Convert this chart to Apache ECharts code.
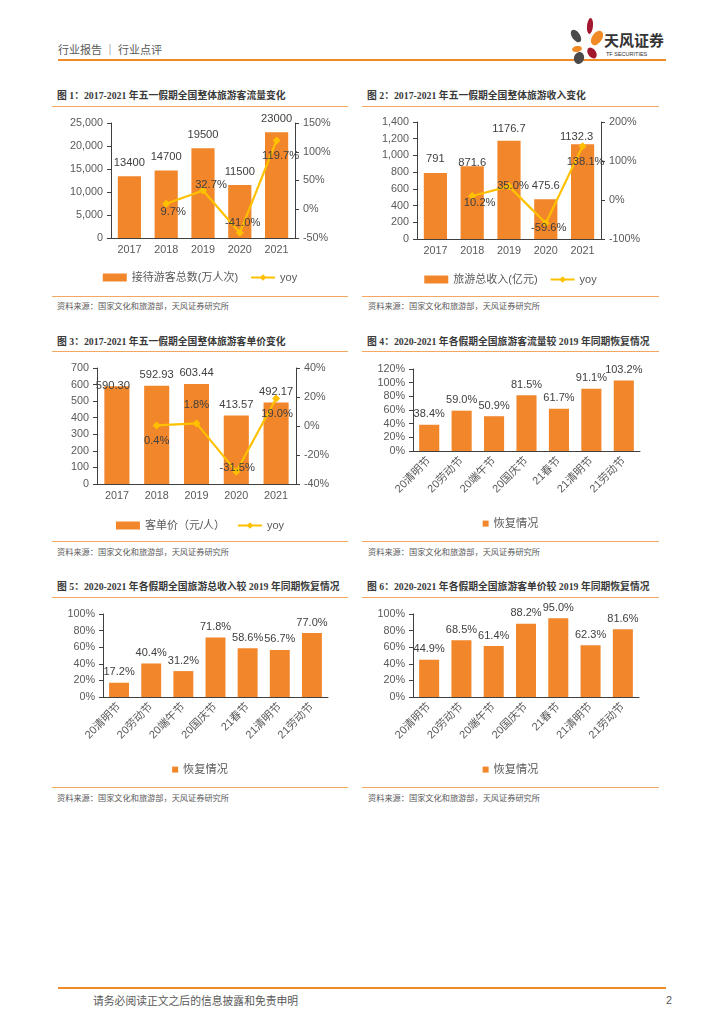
<!DOCTYPE html>
<html><head><meta charset="utf-8">
<script src="https://cdn.jsdelivr.net/npm/echarts@6/dist/echarts.min.js"></script>
<style>
html,body{margin:0;padding:0;background:#fff;}
#page{position:relative;width:724px;height:1024px;overflow:hidden;background:#fff;font-family:"Noto Sans CJK SC",sans-serif;}
.abs{position:absolute;white-space:nowrap;}
.title{font-family:"Liberation Serif","Noto Sans CJK SC",serif;font-weight:bold;font-size:9.8px;line-height:12px;color:#3a3a3a;}
.src{font-size:8.2px;line-height:10px;color:#595959;}
.hl{position:absolute;height:1px;background:#F4A763;}
.chart{position:absolute;}
</style></head>
<body><div id="page">
<div class="abs" style="left:58px;top:42px;font-size:11px;line-height:15px;color:#595959;">行业报告 │ 行业点评</div>
<div style="position:absolute;left:58px;top:59px;width:608px;height:2px;background:#F08A24;"></div>
<svg class="abs" style="left:564px;top:16px;" width="42" height="48" viewBox="0 0 42 48">
  <ellipse cx="26" cy="10" rx="3" ry="8" fill="#A3182F" transform="rotate(5 26 10)"/>
  <ellipse cx="12" cy="20" rx="4" ry="7" fill="#4A4A4A" transform="rotate(-35 12 20)"/>
  <ellipse cx="33" cy="22" rx="5" ry="8" fill="#F08A24" transform="rotate(35 33 22)"/>
  <ellipse cx="13" cy="33" rx="5" ry="3" fill="#F08A24" transform="rotate(-10 13 33)"/>
  <ellipse cx="28" cy="37" rx="4" ry="6" fill="#A3182F" transform="rotate(-35 28 37)"/>
  <ellipse cx="15" cy="42" rx="5" ry="6" fill="#4A4A4A" transform="rotate(20 15 42)"/>
</svg>
<div class="abs" style="left:604px;top:31px;font-size:15px;line-height:18px;font-weight:bold;color:#333;">天风证券</div>
<div class="abs" style="left:606px;top:51px;font-size:5.5px;line-height:7px;color:#333;font-family:'Liberation Sans',sans-serif;">TF SECURITIES</div>

<div class="abs title" style="left:57px;top:90px;">图 1：2017-2021 年五一假期全国整体旅游客流量变化</div>
<div class="abs title" style="left:367px;top:90px;">图 2：2017-2021 年五一假期全国整体旅游收入变化</div>
<div class="hl" style="left:52px;top:106px;width:296px;"></div>
<div class="hl" style="left:362px;top:106px;width:297px;"></div>
<div id="c1" class="chart" style="left:52px;top:107px;width:296px;height:189px;"></div>
<div id="c2" class="chart" style="left:362px;top:107px;width:297px;height:189px;"></div>
<div class="hl" style="left:52px;top:296px;width:296px;"></div>
<div class="hl" style="left:362px;top:296px;width:297px;"></div>
<div class="abs src" style="left:57px;top:300px;">资料来源：国家文化和旅游部，天风证券研究所</div>
<div class="abs src" style="left:368px;top:300px;">资料来源：国家文化和旅游部，天风证券研究所</div>

<div class="abs title" style="left:57px;top:336px;">图 3：2017-2021 年五一假期全国整体旅游客单价变化</div>
<div class="abs title" style="left:367px;top:336px;">图 4：2020-2021 年各假期全国旅游客流量较 2019 年同期恢复情况</div>
<div class="hl" style="left:52px;top:351px;width:296px;"></div>
<div class="hl" style="left:362px;top:351px;width:297px;"></div>
<div id="c3" class="chart" style="left:52px;top:352px;width:296px;height:189px;"></div>
<div id="c4" class="chart" style="left:362px;top:352px;width:297px;height:189px;"></div>
<div class="hl" style="left:52px;top:541px;width:296px;"></div>
<div class="hl" style="left:362px;top:541px;width:297px;"></div>
<div class="abs src" style="left:57px;top:546px;">资料来源：国家文化和旅游部，天风证券研究所</div>
<div class="abs src" style="left:368px;top:546px;">资料来源：国家文化和旅游部，天风证券研究所</div>

<div class="abs title" style="left:57px;top:581px;">图 5：2020-2021 年各假期全国旅游总收入较 2019 年同期恢复情况</div>
<div class="abs title" style="left:367px;top:581px;">图 6：2020-2021 年各假期全国旅游客单价较 2019 年同期恢复情况</div>
<div class="hl" style="left:52px;top:597px;width:296px;"></div>
<div class="hl" style="left:362px;top:597px;width:297px;"></div>
<div id="c5" class="chart" style="left:52px;top:598px;width:296px;height:189px;"></div>
<div id="c6" class="chart" style="left:362px;top:598px;width:297px;height:189px;"></div>
<div class="hl" style="left:52px;top:787px;width:296px;"></div>
<div class="hl" style="left:362px;top:787px;width:297px;"></div>
<div class="abs src" style="left:57px;top:792px;">资料来源：国家文化和旅游部，天风证券研究所</div>
<div class="abs src" style="left:368px;top:792px;">资料来源：国家文化和旅游部，天风证券研究所</div>

<div style="position:absolute;left:58px;top:987px;width:608px;height:2px;background:#F08A24;"></div>
<div class="abs" style="left:93px;top:993px;font-size:10.8px;line-height:14px;color:#595959;">请务必阅读正文之后的信息披露和免责申明</div>
<div class="abs" style="left:666px;top:993px;font-size:10.8px;line-height:14px;color:#595959;font-family:'Liberation Sans',sans-serif;">2</div>
</div>
<script>
// ---------- data ----------
const years = ['2017', '2018', '2019', '2020', '2021'];
const visitors = [13400, 14700, 19500, 11500, 23000];          // 万人次
const visitorsYoy = [null, 9.7, 32.7, -41.0, 119.7];
const revenue = [791, 871.6, 1176.7, 475.6, 1132.3];           // 亿元
const revenueYoy = [null, 10.2, 35.0, -59.6, 138.1];
const spend = [590.30, 592.93, 603.44, 413.57, 492.17];        // 元/人
const spendYoy = [null, 0.4, 1.8, -31.5, 19.0];

const holidays = ['20清明节', '20劳动节', '20端午节', '20国庆节', '21春节', '21清明节', '21劳动节'];
const flowRecovery = [38.4, 59.0, 50.9, 81.5, 61.7, 91.1, 103.2];
const revenueRecovery = [17.2, 40.4, 31.2, 71.8, 58.6, 56.7, 77.0];
const spendRecovery = [44.9, 68.5, 61.4, 88.2, 95.0, 62.3, 81.6];

// axis ranges [min, max, interval]
const visitorsAxis = [0, 25000, 5000];
const visitorsYoyAxis = [-50, 150, 50];
const revenueAxis = [0, 1400, 200];
const revenueYoyAxis = [-100, 200, 100];
const spendAxis = [0, 700, 100];
const spendYoyAxis = [-40, 40, 20];
const flowAxis = [0, 120, 20];
const revenueRecAxis = [0, 100, 20];
const spendRecAxis = [0, 100, 20];

// ---------- style ----------
const FONT = '"Liberation Sans", Arial, "Noto Sans CJK SC", sans-serif';
const ORANGE = '#F2862A';
const GOLD = '#FFC000';
const AXIS = '#404040';
const LBL = '#595959';
const VAL = '#404040';

function thousands(v) { return String(v).replace(/\B(?=(\d{3})+(?!\d))/g, ','); }

function yAxisCfg(range, fmt, pos) {
  return {
    type: 'value', position: pos, min: range[0], max: range[1], interval: range[2],
    splitLine: { show: false },
    axisLine: { show: true, lineStyle: { color: AXIS, width: 1 } },
    axisTick: { show: true, length: 4, lineStyle: { color: AXIS } },
    axisLabel: { color: LBL, fontSize: 10.8, fontFamily: FONT, margin: 8, formatter: fmt }
  };
}

function comboOption(c) {
  return {
    animation: false,
    textStyle: { fontFamily: FONT },
    grid: c.grid,
    legend: {
      left: 'center', top: c.legendTop, itemWidth: 24, itemHeight: 8, itemGap: 12,
      textStyle: { fontSize: 11, color: LBL, fontFamily: FONT },
      data: [{ name: c.barName, icon: 'rect' }, { name: 'yoy' }]
    },
    xAxis: {
      type: 'category', data: years,
      axisLine: { lineStyle: { color: AXIS } },
      axisTick: { length: 4, lineStyle: { color: AXIS } },
      axisLabel: { color: LBL, fontSize: 10.8, fontFamily: FONT, margin: 7 }
    },
    yAxis: [yAxisCfg(c.leftAxis, c.leftFmt, 'left'), yAxisCfg(c.rightAxis, '{value}%', 'right')],
    series: [
      {
        type: 'bar', name: c.barName, barWidth: '63%',
        itemStyle: { color: ORANGE },
        label: { show: true, position: 'top', distance: c.barDist, fontSize: 11.2, color: VAL, fontFamily: FONT, formatter: c.barFmt },
        data: c.bars.map((v, i) => c.barLabelAdj[i] ? { value: v, label: c.barLabelAdj[i] } : v)
      },
      {
        type: 'line', name: 'yoy', yAxisIndex: 1,
        symbol: 'diamond', symbolSize: 8,
        lineStyle: { color: GOLD, width: 2.2 }, itemStyle: { color: GOLD },
        label: { show: true, position: 'inside', fontSize: 11.2, color: VAL, fontFamily: FONT,
          formatter: p => p.value.toFixed(1) + '%' },
        data: c.yoy.map((v, i) => v === null ? null : { value: v, label: { offset: c.yoyOffsets[i] } })
      }
    ]
  };
}

function recoveryOption(values, axis, grid) {
  return {
    animation: false,
    textStyle: { fontFamily: FONT },
    grid: grid,
    legend: {
      left: 'center', top: 161, itemWidth: 6, itemHeight: 6, icon: 'rect',
      textStyle: { fontSize: 11.2, color: LBL, fontFamily: FONT },
      data: ['恢复情况']
    },
    xAxis: {
      type: 'category', data: holidays,
      axisLine: { lineStyle: { color: AXIS } },
      axisTick: { length: 4, lineStyle: { color: AXIS } },
      axisLabel: { color: LBL, fontSize: 11, fontFamily: FONT, rotate: 45, margin: 8, interval: 0 }
    },
    yAxis: yAxisCfg(axis, '{value}%', 'left'),
    series: [{
      type: 'bar', name: '恢复情况', barWidth: '62%',
      itemStyle: { color: ORANGE },
      label: { show: true, position: 'top', distance: 5, fontSize: 11, color: VAL, fontFamily: FONT,
        formatter: p => p.value.toFixed(1) + '%' },
      data: values
    }]
  };
}

echarts.init(document.getElementById('c1')).setOption(comboOption({
  grid: { left: 59, top: 16, width: 184, height: 115 },
  legendTop: 160, barName: '接待游客总数(万人次)',
  bars: visitors, yoy: visitorsYoy,
  leftAxis: visitorsAxis, rightAxis: visitorsYoyAxis,
  leftFmt: v => thousands(v), barFmt: p => String(p.value), barDist: 7.5,
  barLabelAdj: [],
  yoyOffsets: [null, [7, 8], [8, -6], [3, -10], [4, 15]]
}));

echarts.init(document.getElementById('c2')).setOption(comboOption({
  grid: { left: 55, top: 15, width: 184, height: 117 },
  legendTop: 162, barName: '旅游总收入(亿元)',
  bars: revenue, yoy: revenueYoy,
  leftAxis: revenueAxis, rightAxis: revenueYoyAxis,
  leftFmt: v => thousands(v), barFmt: p => String(p.value), barDist: 5,
  barLabelAdj: [{ offset: [0, -3.5] }, { offset: [0, 7.5] }, { offset: [0, -1.5] }, { offset: [0, -2.5] }, { offset: [-6, 3.5] }],
  yoyOffsets: [null, [7.5, 7], [4, 0], [3, 5], [3, 16]]
}));

echarts.init(document.getElementById('c3')).setOption(comboOption({
  grid: { left: 45, top: 16, width: 199, height: 116 },
  legendTop: 163, barName: '客单价（元/人）',
  bars: spend, yoy: spendYoy,
  leftAxis: spendAxis, rightAxis: spendYoyAxis,
  leftFmt: v => String(v), barFmt: p => p.value.toFixed(2), barDist: 5,
  barLabelAdj: [{ offset: [-4, 10] }],
  yoyOffsets: [null, [0, 15], [0, -18], [1, -4], [1, 15]]
}));

echarts.init(document.getElementById('c4')).setOption(
  recoveryOption(flowRecovery, flowAxis, { left: 51, top: 17, width: 227, height: 82 }));
echarts.init(document.getElementById('c5')).setOption(
  recoveryOption(revenueRecovery, revenueRecAxis, { left: 51, top: 16, width: 225, height: 83 }));
echarts.init(document.getElementById('c6')).setOption(
  recoveryOption(spendRecovery, spendRecAxis, { left: 51, top: 16, width: 226, height: 83 }));
</script>
</body></html>
